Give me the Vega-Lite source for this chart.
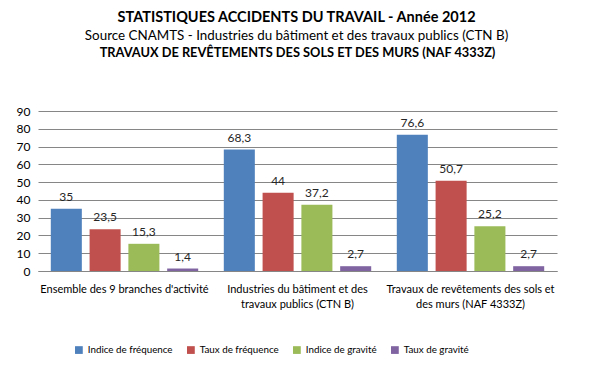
{
  "$schema": "https://vega.github.io/schema/vega-lite/v6.json",
  "padding": {"left": 16, "top": 10, "right": 30, "bottom": 5},
  "background": "white",
  "config": {
    "font": "Lato",
    "view": {"stroke": null},
    "locale": {"number": {"decimal": ",", "thousands": " ", "grouping": [3], "currency": ["", " €"]}}
  },
  "title": {
    "text": "STATISTIQUES ACCIDENTS DU TRAVAIL - Année 2012",
    "subtitle": "Source CNAMTS - Industries du bâtiment et des travaux publics (CTN B)",
    "anchor": "middle",
    "font": "Lato",
    "fontSize": 14.5,
    "fontWeight": "bold",
    "color": "black",
    "subtitleFont": "Lato",
    "subtitleFontSize": 13.4,
    "subtitleFontWeight": "normal",
    "subtitleColor": "black",
    "subtitlePadding": 3,
    "offset": 4,
    "dx": 10
  },
  "data": {
    "values": [
      {"cat": "Ensemble des 9 branches d'activité", "serie": "Indice de fréquence", "value": 35},
      {"cat": "Ensemble des 9 branches d'activité", "serie": "Taux de fréquence", "value": 23.5},
      {"cat": "Ensemble des 9 branches d'activité", "serie": "Indice de gravité", "value": 15.3},
      {"cat": "Ensemble des 9 branches d'activité", "serie": "Taux de gravité", "value": 1.4},
      {"cat": "Industries du bâtiment et des|travaux publics (CTN B)", "serie": "Indice de fréquence", "value": 68.3},
      {"cat": "Industries du bâtiment et des|travaux publics (CTN B)", "serie": "Taux de fréquence", "value": 44},
      {"cat": "Industries du bâtiment et des|travaux publics (CTN B)", "serie": "Indice de gravité", "value": 37.2},
      {"cat": "Industries du bâtiment et des|travaux publics (CTN B)", "serie": "Taux de gravité", "value": 2.7},
      {"cat": "Travaux de revêtements des sols et|des murs (NAF 4333Z)", "serie": "Indice de fréquence", "value": 76.6},
      {"cat": "Travaux de revêtements des sols et|des murs (NAF 4333Z)", "serie": "Taux de fréquence", "value": 50.7},
      {"cat": "Travaux de revêtements des sols et|des murs (NAF 4333Z)", "serie": "Indice de gravité", "value": 25.2},
      {"cat": "Travaux de revêtements des sols et|des murs (NAF 4333Z)", "serie": "Taux de gravité", "value": 2.7}
    ]
  },
  "vconcat": [
    {
      "width": 519,
      "height": 160,
      "title": {
        "text": "TRAVAUX DE REVÊTEMENTS DES SOLS ET DES MURS (NAF 4333Z)",
        "anchor": "middle",
        "font": "Lato",
        "fontSize": 12.8,
        "fontWeight": "bold",
        "color": "black",
        "offset": 45,
        "dx": 0
      },
      "encoding": {
        "x": {
          "field": "cat",
          "type": "nominal",
          "sort": null,
          "scale": {"paddingInner": 0, "paddingOuter": 0},
          "axis": {
            "title": null,
            "labelAngle": 0,
            "labelExpr": "split(datum.label, '|')",
            "labelFontSize": 11,
            "labelColor": "black",
            "labelPadding": 12,
            "labelLineHeight": 15,
            "labelLimit": 200,
            "ticks": false,
            "domainColor": "#868686",
            "grid": false
          }
        },
        "xOffset": {
          "field": "serie",
          "type": "nominal",
          "sort": ["Indice de fréquence", "Taux de fréquence", "Indice de gravité", "Taux de gravité"],
          "scale": {"paddingInner": 0.2, "paddingOuter": 0.33}
        },
        "y": {
          "field": "value",
          "type": "quantitative",
          "scale": {"domain": [0, 90]},
          "axis": {
            "title": null,
            "values": [0, 10, 20, 30, 40, 50, 60, 70, 80, 90],
            "domain": false,
            "ticks": false,
            "gridColor": "#868686",
            "labelFontSize": 12,
            "labelColor": "black",
            "labelPadding": 8
          }
        }
      },
      "layer": [
        {
          "mark": {"type": "bar"},
          "encoding": {
            "color": {
              "field": "serie",
              "type": "nominal",
              "sort": ["Indice de fréquence", "Taux de fréquence", "Indice de gravité", "Taux de gravité"],
              "scale": {
                "domain": ["Indice de fréquence", "Taux de fréquence", "Indice de gravité", "Taux de gravité"],
                "range": ["#4F81BD", "#C0504D", "#9BBB59", "#8064A2"]
              },
              "legend": {
                "title": null,
                "orient": "none",
                "legendX": 36,
                "legendY": 234,
                "direction": "horizontal",
                "symbolType": "square",
                "symbolSize": 60,
                "symbolStrokeWidth": 0,
                "labelFontSize": 9.8,
                "labelColor": "black",
                "columnPadding": 13
              }
            }
          }
        },
        {
          "mark": {"type": "text", "baseline": "bottom", "dy": -5, "fontSize": 12, "color": "#262626"},
          "encoding": {
            "text": {"field": "value", "type": "quantitative", "format": ".1~f"}
          }
        }
      ]
    }
  ]
}
